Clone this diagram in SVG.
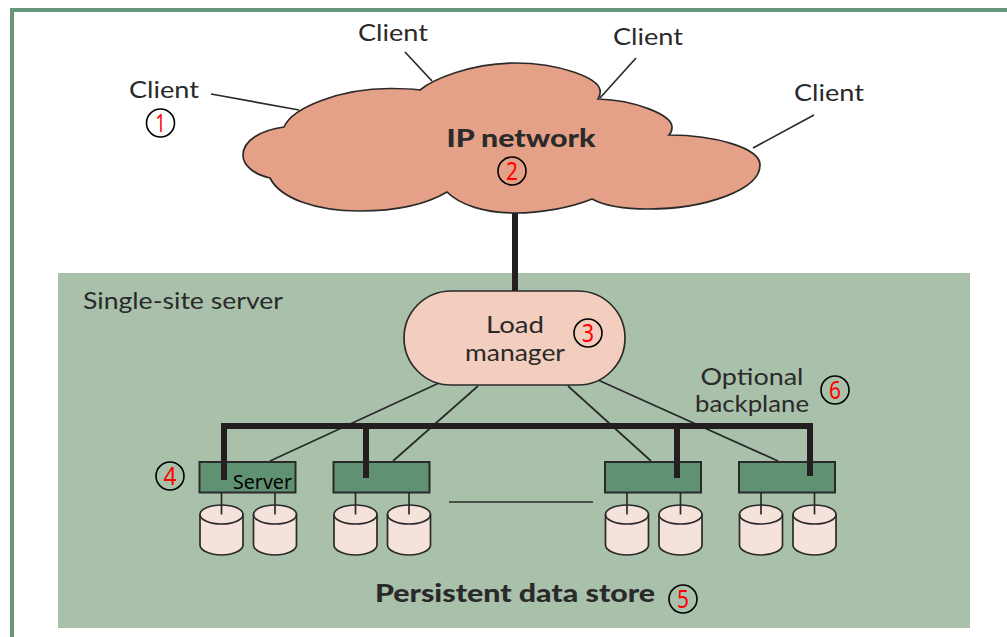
<svg xmlns="http://www.w3.org/2000/svg" width="1007" height="637" viewBox="0 0 1007 637">
<style>
text{font-family:"Lato","Liberation Sans",sans-serif;fill:#2b2a2a}
.l{font-size:24px}
.b{font-size:24px;font-weight:900}
.ln{stroke:#2b2a2a;stroke-width:1.7;fill:none}
.bus{stroke:#231f20;stroke-width:6;fill:none}
.srv{fill:#5f9172;stroke:#2b2a2a;stroke-width:2}
.cyl{fill:#f5e2db;stroke:#2b2a2a;stroke-width:1.7}
.c{fill:none;stroke:#000;stroke-width:1.6}
.n{font-family:"Noto Sans",sans-serif;font-size:25px;fill:#f00;text-anchor:middle}
</style>
<defs>
<g id="disk"><path class="cyl" d="M0 9.500A21.500 9.500 0 0 1 43 9.500V40C43 45.500 33 50 21.500 50S0 45.500 0 40Z"/><path class="cyl" style="fill:none" d="M0 9.500A21.500 9.500 0 0 0 43 9.500"/><path class="ln" d="M21.500 -13V9.500"/></g>
</defs>
<path d="M12 637V10H1007" fill="none" stroke="#659679" stroke-width="4"/>
<rect id="site" x="58" y="273" width="912" height="355" fill="#a9c0ab"/>
<g id="connectors">
<path class="ln" d="M211 94L299 110M405 52L432 81M636 58L600 98M814 115L753 148"/>
<path class="bus" d="M515 213V291"/>
<path class="ln" d="M439 383L270 461M478 386L393 461M568 386L651 461M598 380L778 461"/>
<path class="bus" d="M224 480V426H810V476M366 426V478M677 426V478"/>
<path class="ln" d="M449 502H593"/>
</g>
<g id="cloud">
<path fill="#e5a187" stroke="#2b2a2a" stroke-width="1.700" d="M284 127C292 108 340 88 392 88.500C402 88.500 412 89 420 90C432 80 470 63 515 63C560 63 598 78 600 90C600.500 93 600 96 598 99C635 100 672 115 672 127C672 130 671 133 669 135C715 135 760 148 760 165C760 190 705 209 648 209C625 209 605 206 592 199C570 208 540 213 515 213C485 213 460 205 447 192C425 205 395 211 360 211C315 211 280 198 270 178C253 174 243 165 243 155C243 140 262 130 284 127Z"/>
<text class="b" x="521" y="147" text-anchor="middle" textLength="149" lengthAdjust="spacingAndGlyphs">IP network</text>
</g>
<g id="client1"><text class="l" x="129" y="98" textLength="70" lengthAdjust="spacingAndGlyphs">Client</text></g>
<g id="client2"><text class="l" x="358" y="41" textLength="70" lengthAdjust="spacingAndGlyphs">Client</text></g>
<g id="client3"><text class="l" x="613" y="45" textLength="70" lengthAdjust="spacingAndGlyphs">Client</text></g>
<g id="client4"><text class="l" x="794" y="101" textLength="70" lengthAdjust="spacingAndGlyphs">Client</text></g>
<g id="load-manager">
<rect x="404" y="291" width="221" height="94" rx="47" fill="#f3cdbd" stroke="#2b2a2a" stroke-width="1.700"/>
<text class="l" x="515" y="333" text-anchor="middle" textLength="58" lengthAdjust="spacingAndGlyphs">Load</text>
<text class="l" x="515" y="361" text-anchor="middle" textLength="100" lengthAdjust="spacingAndGlyphs">manager</text>
</g>
<text class="l" x="83" y="309" textLength="200" lengthAdjust="spacingAndGlyphs">Single-site server</text>
<text class="l" x="752" y="385" text-anchor="middle" textLength="103" lengthAdjust="spacingAndGlyphs">Optional</text>
<text class="l" x="752" y="412" text-anchor="middle" textLength="114" lengthAdjust="spacingAndGlyphs">backplane</text>
<text class="b" x="375" y="602" textLength="280" lengthAdjust="spacingAndGlyphs">Persistent data store</text>
<g id="server1"><use href="#disk" x="200" y="505"/><use href="#disk" x="253.500" y="505"/><rect class="srv" x="199.500" y="462" width="96" height="30.500"/><path class="bus" d="M224 462V480"/><text x="233" y="489" textLength="59" lengthAdjust="spacingAndGlyphs" style="font-family:'Noto Sans',sans-serif;font-size:20px;fill:#000">Server</text></g>
<g id="server2"><use href="#disk" x="334" y="505"/><use href="#disk" x="387.500" y="505"/><rect class="srv" x="333.500" y="462" width="96" height="30.500"/><path class="bus" d="M366 462V478"/></g>
<g id="server3"><use href="#disk" x="605.500" y="505"/><use href="#disk" x="659" y="505"/><rect class="srv" x="605" y="462" width="96" height="30.500"/><path class="bus" d="M677 462V478"/></g>
<g id="server4"><use href="#disk" x="739.500" y="505"/><use href="#disk" x="793" y="505"/><rect class="srv" x="739" y="462" width="96" height="30.500"/><path class="bus" d="M810 462V476"/></g>
<g id="badge1"><circle class="c" cx="160.500" cy="123" r="14"/><text class="n" x="160.500" y="132" textLength="10" lengthAdjust="spacingAndGlyphs">1</text></g>
<g id="badge2"><circle class="c" cx="512" cy="171" r="14"/><text class="n" x="512" y="180" textLength="12" lengthAdjust="spacingAndGlyphs">2</text></g>
<g id="badge3"><circle class="c" cx="588" cy="333" r="14"/><text class="n" x="588" y="342" textLength="12" lengthAdjust="spacingAndGlyphs">3</text></g>
<g id="badge4"><circle class="c" cx="170" cy="476" r="14"/><text class="n" x="170" y="485" textLength="13" lengthAdjust="spacingAndGlyphs">4</text></g>
<g id="badge5"><circle class="c" cx="683" cy="599" r="14"/><text class="n" x="683" y="608" textLength="12" lengthAdjust="spacingAndGlyphs">5</text></g>
<g id="badge6"><circle class="c" cx="835" cy="390" r="14"/><text class="n" x="835" y="399" textLength="12" lengthAdjust="spacingAndGlyphs">6</text></g>
</svg>
